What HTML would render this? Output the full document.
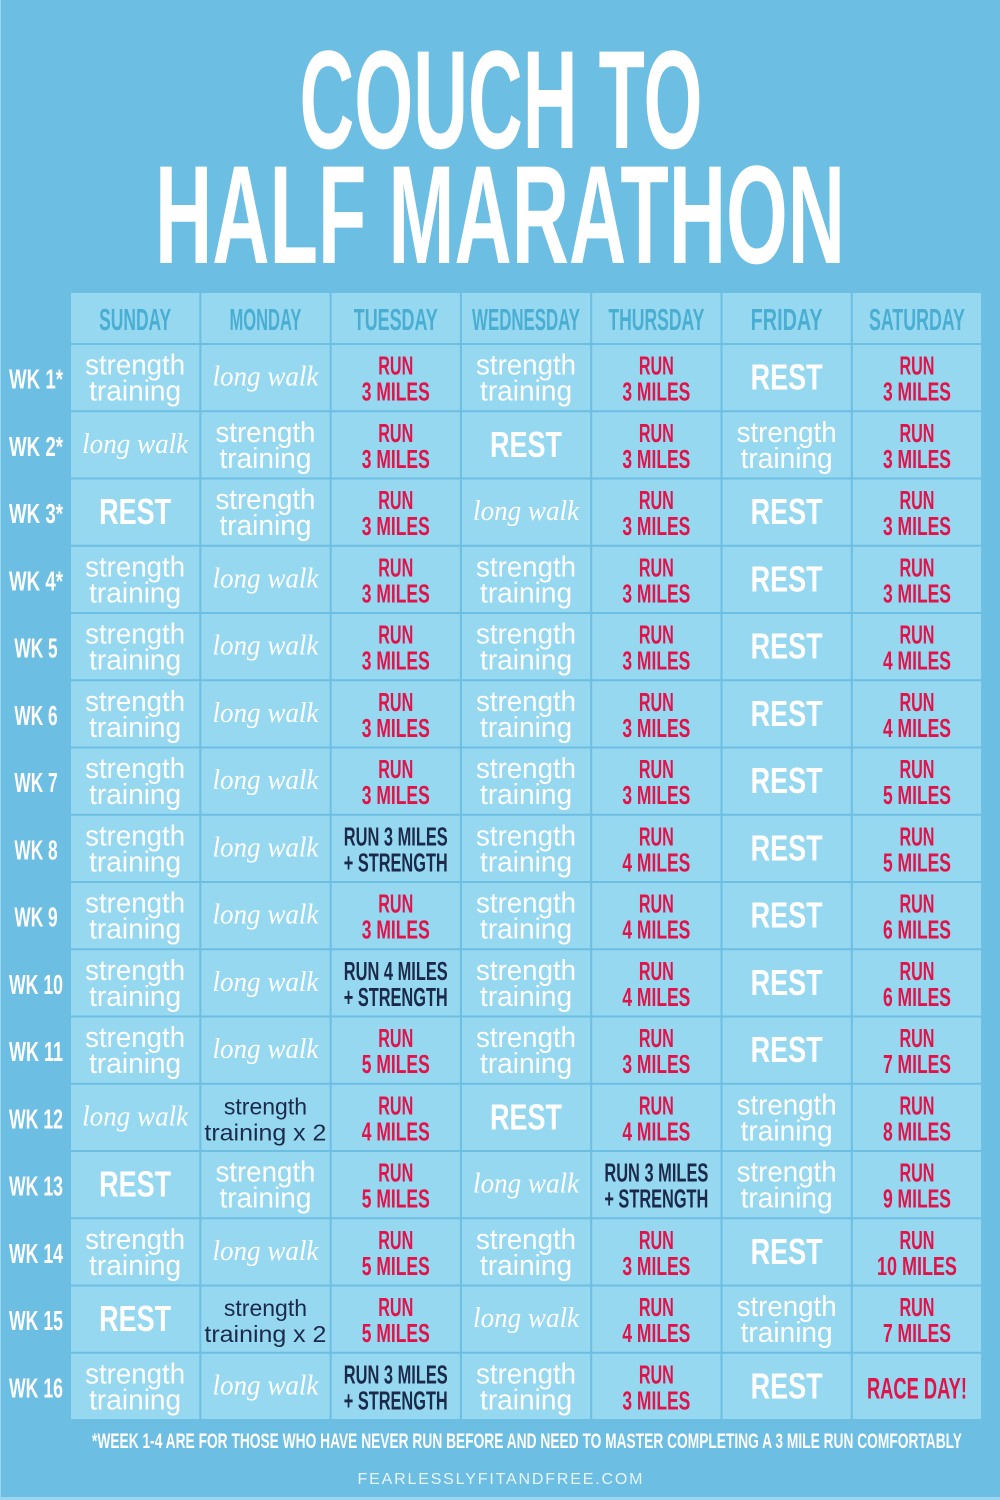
<!DOCTYPE html>
<html><head><meta charset="utf-8"><style>
html,body{margin:0;padding:0;background:#6cbee3;}
svg{display:block;}
</style></head><body>
<svg id="chart" width="1000" height="1500" xmlns="http://www.w3.org/2000/svg">
<rect x="0" y="0" width="1000" height="1500" fill="#6cbee3"/>
<rect x="0" y="0" width="1" height="1500" fill="#9bd5ef"/>
<rect x="0" y="1497" width="1000" height="3" fill="#9bd5ef"/>
<text x="501" y="148" font-family="Liberation Sans, sans-serif" font-weight="bold" font-size="140" fill="#fff" textLength="403" lengthAdjust="spacingAndGlyphs" text-anchor="middle">COUCH TO</text>
<text x="500" y="263" font-family="Liberation Sans, sans-serif" font-weight="bold" font-size="140" fill="#fff" textLength="690" lengthAdjust="spacingAndGlyphs" text-anchor="middle">HALF MARATHON</text>
<g id="grid"></g>
<text x="527" y="1448" font-family="Liberation Sans, sans-serif" font-weight="bold" font-size="21" fill="#fff" textLength="870" lengthAdjust="spacingAndGlyphs" text-anchor="middle">*WEEK 1-4 ARE FOR THOSE WHO HAVE NEVER RUN BEFORE AND NEED TO MASTER COMPLETING A 3 MILE RUN COMFORTABLY</text>
<text x="500" y="1484" font-family="Liberation Sans, sans-serif" font-size="16" fill="#e8f6fc" textLength="285" lengthAdjust="spacing" text-anchor="middle">FEARLESSLYFITANDFREE.COM</text>
</svg>
<script>
const days = ["SUNDAY","MONDAY","TUESDAY","WEDNESDAY","THURSDAY","FRIDAY","SATURDAY"];
const weeks = ["WK 1*","WK 2*","WK 3*","WK 4*","WK 5","WK 6","WK 7","WK 8","WK 9","WK 10","WK 11","WK 12","WK 13","WK 14","WK 15","WK 16"];
const plan = [
["S","L","r3","S","r3","R","r3"],
["L","S","r3","R","r3","S","r3"],
["R","S","r3","L","r3","R","r3"],
["S","L","r3","S","r3","R","r3"],
["S","L","r3","S","r3","R","r4"],
["S","L","r3","S","r3","R","r4"],
["S","L","r3","S","r3","R","r5"],
["S","L","rs3","S","r4","R","r5"],
["S","L","r3","S","r4","R","r6"],
["S","L","rs4","S","r4","R","r6"],
["S","L","r5","S","r3","R","r7"],
["L","S2","r4","R","r4","S","r8"],
["R","S","r5","L","rs3","S","r9"],
["S","L","r5","S","r3","R","r10"],
["R","S2","r5","L","r4","S","r7"],
["S","L","rs3","S","r3","R","RACE"]
];
const NS="http://www.w3.org/2000/svg";
const g=document.getElementById('grid');
const x0=70, cw=130.3, hy=293, hh=50, ry0=345, rh=67.25;
function colX(i){return x0+i*cw;}
function rowY(j){return ry0+j*rh;}
function mk(tag,attrs,txt){const e=document.createElementNS(NS,tag);for(const k in attrs)e.setAttribute(k,attrs[k]);if(txt!==undefined)e.textContent=txt;g.appendChild(e);return e;}
const cond="Liberation Sans, sans-serif";
days.forEach((d,i)=>{
  const r=mk('rect',{x:colX(i)+1,y:hy,width:cw-2,height:hh,fill:'#97d8f1'});
  
  
  const t=mk('text',{x:colX(i)+cw/2,y:hy+37,'font-family':cond,'font-weight':'bold','font-size':31,fill:'#4aaed3','text-anchor':'middle',textLength:Math.min(d.length*12,122),lengthAdjust:'spacingAndGlyphs'},d);
  
  
});
weeks.forEach((w,j)=>{
  const cy=rowY(j)+rh/2-1;
  const t=mk('text',{x:36,y:cy+11,'font-family':cond,'font-weight':'bold','font-size':28,fill:'#fff','text-anchor':'middle',textLength:w.length*10.8,lengthAdjust:'spacingAndGlyphs'},w);
  
  
  plan[j].forEach((c,i)=>{
    const x=colX(i), y=rowY(j), cx=x+cw/2;
    const r=mk('rect',{x:x+1,y:y,width:cw-2,height:rh-2,fill:'#97d8f1'});
    
    
    let lines=[];
    if(c==="S"){
      lines=[[-3,'strength',{fill:'#fff','font-size':29,'font-family':'Liberation Sans, sans-serif'},100],[23,'training',{fill:'#fff','font-size':29,'font-family':'Liberation Sans, sans-serif'},92]];
    } else if(c==="S2"){
      lines=[[-3,'strength',{fill:'#1b2a4a','font-size':23,'font-family':'Liberation Sans, sans-serif'},0],[23,'training x 2',{fill:'#1b2a4a','font-size':23,'font-family':'Liberation Sans, sans-serif'},122]];
    } else if(c==="L"){
      lines=[[8,'long walk',{fill:'#fff','font-size':28,'font-family':'Liberation Serif, serif','font-style':'italic'},106]];
    } else if(c==="R"){
      lines=[[12,'REST',{fill:'#fff','font-size':36,'font-family':'Liberation Sans, sans-serif','font-weight':'bold'},72]];
    } else if(c==="RACE"){
      lines=[[12,'RACE DAY!',{fill:'#e0134a','font-size':30,'font-family':cond,'font-weight':'bold'},100]];
    } else if(c.startsWith("rs")){
      const n=c.slice(2);
      lines=[[-3,'RUN '+n+' MILES',{fill:'#1b2a4a','font-size':26,'font-family':cond,'font-weight':'bold'},104],[23,'+ STRENGTH',{fill:'#1b2a4a','font-size':26,'font-family':cond,'font-weight':'bold'},104]];
    } else {
      const n=c.slice(1);
      lines=[[-3,'RUN',{fill:'#e0134a','font-size':26,'font-family':cond,'font-weight':'bold'},35],[23,n+' MILES',{fill:'#e0134a','font-size':26,'font-family':cond,'font-weight':'bold'},n.length>1?80:68]];
    }
    const cyy=y+rh/2-1;
    lines.forEach(([dy,txt,st,len])=>{
      const a=Object.assign({x:cx,y:cyy+dy,'text-anchor':'middle'},st);
      if(len){a.textLength=len;a.lengthAdjust='spacingAndGlyphs';}
      const t=mk('text',a,txt);
      
      
    });
  });
});
</script>
</body></html>
